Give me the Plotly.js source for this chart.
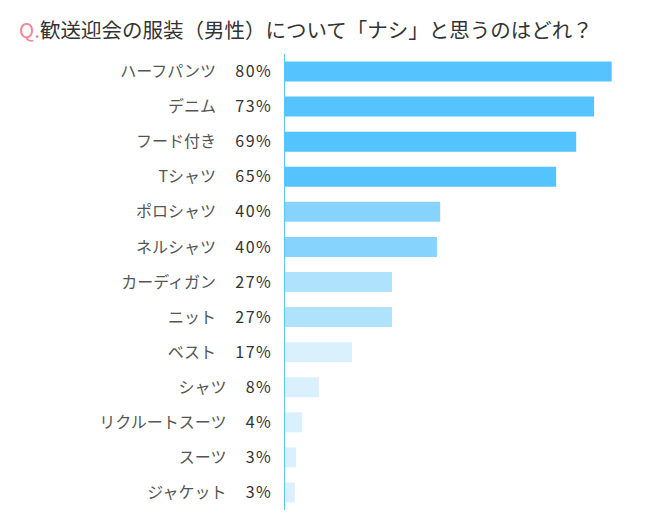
<!DOCTYPE html>
<html>
<head>
<meta charset="utf-8">
<script src="https://cdn.plot.ly/plotly-3.0.1.min.js"></script>
<style>html,body{margin:0;padding:0;background:#fff;}#chart{width:650px;height:520px;}</style>
</head>
<body>
<div id="chart"></div>
<script>
// Data
const categories = ["ハーフパンツ","デニム","フード付き","Tシャツ","ポロシャツ","ネルシャツ","カーディガン","ニット","ベスト","シャツ","リクルートスーツ","スーツ","ジャケット"];
const pctLabels = ["80%","73%","69%","65%","40%","40%","27%","27%","17%","8%","4%","3%","3%"];
// bar lengths as drawn in the picture (percent units)
const barValues = [80, 75.7, 71.3, 66.4, 38.0, 37.2, 26.2, 26.2, 16.4, 8.3, 4.2, 2.7, 2.4];

const tierColors = ["#55c3fd","#86d4fd","#aee2fd","#daf1fd"];
const tierIndex = [0,0,0,0,1,1,2,2,3,3,3,3,3];
const barColors = tierIndex.map(i => tierColors[i]);

const tickText = categories.map((c, i) =>
  '<span style="color:#555">' + c + '</span>\u3000\u2009<span style="color:#333;letter-spacing:1.5px">' + pctLabels[i] + '</span>');

const plotW = 340;
const pxPerUnit = 326.7 / 80;

const trace = {
  type: 'bar',
  orientation: 'h',
  x: barValues,
  y: categories,
  marker: {color: barColors, line: {width: 0}},
  hoverinfo: 'none'
};

const layout = {
  width: 650,
  height: 520,
  margin: {l: 285, r: 650 - 285 - plotW, t: 54, b: 10, pad: 0},
  paper_bgcolor: '#ffffff',
  plot_bgcolor: '#ffffff',
  showlegend: false,
  bargap: 0.43,
  font: {family: '"Noto Sans CJK JP", "Noto Sans", sans-serif', size: 16, color: '#333'},
  title: {
    text: '<span style="color:#f2849b">Q.</span>歓送迎会の服装（男性）について「ナシ」と思うのはどれ？',
    font: {family: '"Noto Sans CJK JP", sans-serif', size: 20.5, color: '#333'},
    xref: 'container', yref: 'container',
    x: 19 / 650, xanchor: 'left',
    y: 1 - 31 / 520, yanchor: 'middle'
  },
  xaxis: {
    range: [0, plotW / pxPerUnit],
    showgrid: false, zeroline: false, showline: false,
    showticklabels: false, ticks: '', fixedrange: true
  },
  yaxis: {
    type: 'category',
    autorange: 'reversed',
    tickmode: 'array',
    tickvals: categories,
    ticktext: tickText,
    showgrid: false, zeroline: false,
    showline: true, linecolor: '#5bc4f8', linewidth: 1.5,
    ticks: '', ticklabelstandoff: 8,
    tickfont: {family: '"Noto Sans CJK JP", sans-serif', size: 16, color: '#333'}
  }
};

Plotly.newPlot('chart', [trace], layout, {displayModeBar: false, staticPlot: true});
</script>
</body>
</html>
